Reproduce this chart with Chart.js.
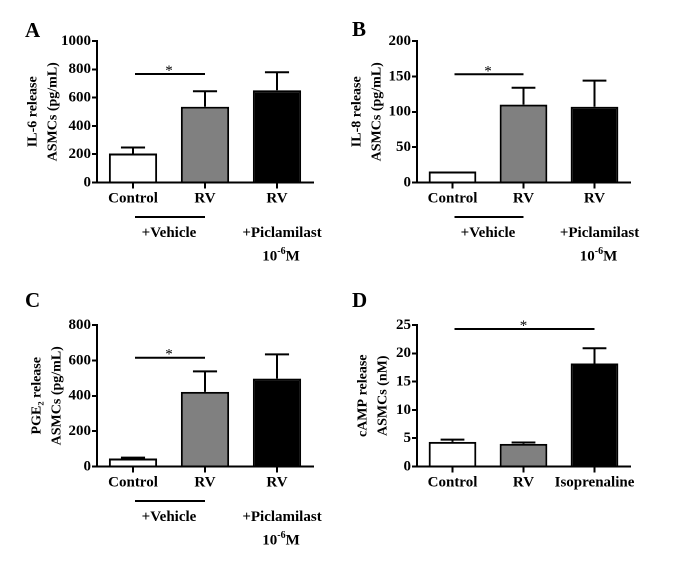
<!DOCTYPE html>
<html>
<head>
<meta charset="utf-8">
<script src="https://cdn.jsdelivr.net/npm/chart.js@4.4.1/dist/chart.umd.min.js"></script>
<style>
  html, body { margin: 0; padding: 0; background: #ffffff; }
  #wrap { position: relative; width: 685px; height: 569px; background: #fff; overflow: hidden; }
  .panel { position: absolute; }
</style>
</head>
<body>
<div id="wrap">
  <div class="panel" style="left:0px;top:0px;width:340px;height:284px;"><canvas id="cA"></canvas></div>
  <div class="panel" style="left:340px;top:0px;width:345px;height:284px;"><canvas id="cB"></canvas></div>
  <div class="panel" style="left:0px;top:284px;width:340px;height:284px;"><canvas id="cC"></canvas></div>
  <div class="panel" style="left:340px;top:284px;width:345px;height:284px;"><canvas id="cD"></canvas></div>
</div>
<script>
// ---------- DATA ----------
const categoriesABC = ["Control", "RV", "RV"];
const categoriesD = ["Control", "RV", "Isoprenaline"];

const il6Values = [205, 535, 652];
const il6Errors = [42, 110, 127];

const il8Values = [15.5, 110, 107];
const il8Errors = [0, 24, 37];

const pge2Values = [45, 422, 497];
const pge2Errors = [5, 116, 137];

const campValues = [4.35, 4.0, 18.2];
const campErrors = [0.4, 0.25, 2.7];

const ticksA = [0, 200, 400, 600, 800, 1000];
const ticksB = [0, 50, 100, 150, 200];
const ticksC = [0, 200, 400, 600, 800];
const ticksD = [0, 5, 10, 15, 20, 25];

// significance bars: [fromCategory, toCategory, level in data units]
const sigA = [0, 1, 767];
const sigB = [0, 1, 153];
const sigC = [0, 1, 615];
const sigD = [0, 2, 24.3];

const barColors = ["#ffffff", "#808080", "#000000"];

// ---------- DRAWING ----------
const FONT = "'Liberation Serif', 'Times New Roman', serif";

const extrasPlugin = {
  id: 'panelExtras',
  afterDatasetsDraw(chart) {
    const p = chart.options.plugins.panelExtras;
    const ctx = chart.ctx;
    const ys = chart.scales.y;
    const meta = chart.getDatasetMeta(0);
    ctx.save();
    ctx.strokeStyle = '#000';
    ctx.lineWidth = 2;
    p.errors.forEach((e, i) => {
      if (!e) return;
      const bar = meta.data[i];
      const cx = bar.x;
      const top = ys.getPixelForValue(p.values[i]);
      const et = ys.getPixelForValue(p.values[i] + e);
      const hw = bar.width / 4;
      ctx.beginPath();
      ctx.moveTo(cx, top);
      ctx.lineTo(cx, et);
      ctx.moveTo(cx - hw, et);
      ctx.lineTo(cx + hw, et);
      ctx.stroke();
    });
    ctx.restore();
  },
  afterDraw(chart) {
    const p = chart.options.plugins.panelExtras;
    const ctx = chart.ctx;
    const xs = chart.scales.x, ys = chart.scales.y;
    const bottom = chart.chartArea.bottom;
    ctx.save();
    // panel letter
    ctx.fillStyle = '#000';
    ctx.font = "bold 21px " + FONT;
    ctx.textAlign = 'left';
    ctx.textBaseline = 'alphabetic';
    ctx.fillText(p.letter, p.letterPos[0], p.letterPos[1]);

    // significance bar
    const [a, b, lvl] = p.sig;
    const x1 = xs.getPixelForValue(a), x2 = xs.getPixelForValue(b);
    const sy = ys.getPixelForValue(lvl);
    ctx.strokeStyle = '#000';
    ctx.lineWidth = 2;
    ctx.beginPath();
    ctx.moveTo(x1 + 2, sy);
    ctx.lineTo(x2, sy);
    ctx.stroke();
    ctx.font = "15px " + FONT;
    ctx.textAlign = 'center';
    ctx.fillText('*', (x1 + x2) / 2, sy + 1);

    // treatment labels under axis
    if (p.treatments) {
      const c0 = xs.getPixelForValue(0), c1 = xs.getPixelForValue(1), c2 = xs.getPixelForValue(2);
      ctx.beginPath();
      ctx.moveTo(c0 + 2, bottom + 34.5);
      ctx.lineTo(c1, bottom + 34.5);
      ctx.stroke();
      ctx.font = "bold 15px " + FONT;
      ctx.textBaseline = 'middle';
      ctx.textAlign = 'center';
      ctx.fillText('+Vehicle', (c0 + c1) / 2, bottom + 50.5);
      ctx.fillText('+Piclamilast', c2 + 5, bottom + 50.5);
      // 10^-6 M
      const big = "bold 15px " + FONT, small = "bold 10px " + FONT;
      ctx.font = big; const w1 = ctx.measureText('10').width; const w3 = ctx.measureText('M').width;
      ctx.font = small; const w2 = ctx.measureText('-6').width;
      let sx = c2 + 4 - (w1 + w2 + w3) / 2;
      const ty = bottom + 74;
      ctx.textAlign = 'left';
      ctx.font = big; ctx.fillText('10', sx, ty); sx += w1;
      ctx.font = small; ctx.fillText('-6', sx, ty - 5); sx += w2;
      ctx.font = big; ctx.fillText('M', sx, ty);
    }
    ctx.restore();
  }
};

function makePanel(id, cats, values, errors, ticks, titleLines, titlePad, axisLeft, rightPad, sig, letter, letterPos, treatments) {
  const maxV = ticks[ticks.length - 1];
  const step = ticks[1] - ticks[0];
  return new Chart(document.getElementById(id), {
    type: 'bar',
    data: {
      labels: cats,
      datasets: [{
        data: values,
        backgroundColor: barColors,
        borderColor: '#000',
        borderWidth: 2,
        borderSkipped: 'bottom',
        barPercentage: 0.67,
        categoryPercentage: 1.0
      }]
    },
    options: {
      responsive: true,
      maintainAspectRatio: false,
      animation: false,
      devicePixelRatio: 2,
      layout: { padding: { top: 41, right: rightPad, bottom: 0, left: 0 } },
      plugins: {
        legend: { display: false },
        tooltip: { enabled: false },
        panelExtras: { values, errors, sig, letter, letterPos, treatments }
      },
      scales: {
        x: {
          afterFit(scale) { scale.height = 284 - 182.5; },
          grid: { offset: false, drawOnChartArea: false, drawTicks: true, tickLength: 6, color: '#000', lineWidth: 2 },
          border: { display: true, color: '#000', width: 2 },
          ticks: { color: '#000', padding: 1, maxRotation: 0, autoSkip: false, font: { family: FONT, size: 15, weight: 'bold' } }
        },
        y: {
          min: 0, max: maxV,
          afterFit(scale) { scale.width = axisLeft; },
          afterBuildTicks(scale) { scale.ticks = ticks.map(v => ({ value: v })); },
          grid: { drawOnChartArea: false, drawTicks: true, tickLength: 5, color: '#000', lineWidth: 2 },
          border: { display: true, color: '#000', width: 2 },
          ticks: {
            color: '#000', padding: 1, stepSize: step,
            callback: (v) => String(v),
            font: { family: FONT, size: 15, weight: 'bold' }
          },
          title: {
            display: true, text: titleLines, color: '#000',
            padding: { top: titlePad, bottom: 0 },
            font: { family: FONT, size: 14, weight: 'bold', lineHeight: '20px' }
          }
        }
      }
    },
    plugins: [extrasPlugin]
  });
}

makePanel('cA', categoriesABC, il6Values, il6Errors, ticksA, ['IL-6 release', 'ASMCs (pg/mL)'], 23, 97, 27, sigA, 'A', [25, 37], true);
makePanel('cB', categoriesABC, il8Values, il8Errors, ticksB, ['IL-8 release', 'ASMCs (pg/mL)'], 7, 77, 55, sigB, 'B', [12, 36], true);
makePanel('cC', categoriesABC, pge2Values, pge2Errors, ticksC, ['PGE\u2082 release', 'ASMCs (pg/mL)'], 27, 97, 27, sigC, 'C', [25, 23], true);
makePanel('cD', categoriesD, campValues, campErrors, ticksD, ['cAMP release', 'ASMCs (nM)'], 13, 77, 55, sigD, 'D', [12, 23], false);
</script>
</body>
</html>
